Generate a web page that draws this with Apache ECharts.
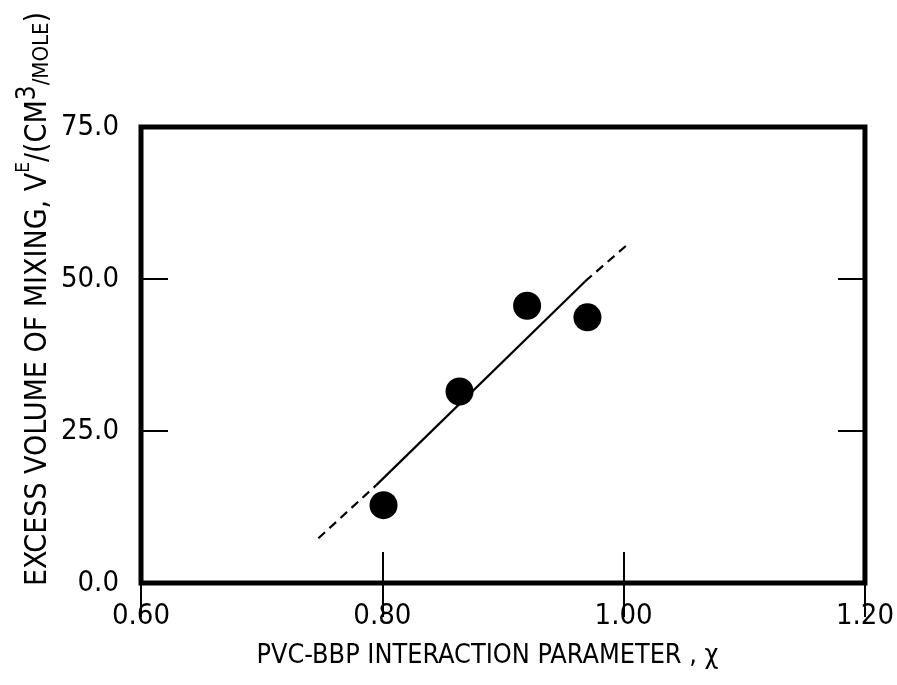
<!DOCTYPE html>
<html>
<head>
<meta charset="utf-8">
<script src="https://cdn.jsdelivr.net/npm/echarts@6/dist/echarts.min.js"></script>
<style>html,body{margin:0;padding:0;background:#fff}#c{width:897px;height:685px}</style>
</head>
<body>
<div id="c"></div>
<script>
// Data
const pointX = [0.801, 0.864, 0.920, 0.970];
const pointY = [12.8, 31.5, 45.6, 43.7];
const fitSolidX = [0.795, 0.968];
const fitSolidY = [16.1, 49.6];
const fitDashLowX = [0.747, 0.795];
const fitDashLowY = [7.35, 16.1];
const fitDashHighX = [0.968, 1.004];
const fitDashHighY = [49.6, 55.8];
const xTickValues = [0.6, 0.8, 1.0, 1.2];
const yTickValues = [0, 25, 50, 75];
const xTitle = 'PVC-BBP INTERACTION PARAMETER , χ';

const zip = (a, b) => a.map((v, i) => [v, b[i]]);
const FONT = '"DejaVu Sans Condensed", "DejaVu Sans", sans-serif';

const chart = echarts.init(document.getElementById('c'), null, {renderer: 'canvas'});
const xBase = {
  type: 'value', min: xTickValues[0], max: xTickValues[xTickValues.length - 1], interval: 0.2,
  axisLine: {show: false}, splitLine: {show: false},
  axisTick: {show: true, inside: true, length: 31, lineStyle: {color: '#000', width: 2}}
};
const yBase = {
  type: 'value', min: yTickValues[0], max: yTickValues[yTickValues.length - 1], interval: 25,
  axisLine: {show: false}, splitLine: {show: false},
  axisTick: {show: true, inside: true, length: 27, lineStyle: {color: '#000', width: 2}}
};
chart.setOption({
  animation: false,
  backgroundColor: '#fff',
  grid: {left: 141, right: 31, top: 127, bottom: 102, show: true, borderColor: '#000', borderWidth: 5, backgroundColor: 'transparent'},
  xAxis: [
    Object.assign({}, xBase, {
      position: 'bottom',
      axisLabel: {show: true, color: '#000', fontFamily: FONT, fontSize: 29, margin: 19,
        formatter: v => v.toFixed(2)},
      name: xTitle, nameLocation: 'middle', nameGap: 60,
      nameTextStyle: {color: '#000', fontFamily: FONT, fontSize: 26.8, padding: [0, 31, 0, 0]}
    }),
    Object.assign({}, xBase, {position: 'top', axisLabel: {show: false},
      axisTick: {show: true, inside: true, length: 34, lineStyle: {color: '#000', width: 2}}})
  ],
  yAxis: [
    Object.assign({}, yBase, {
      position: 'left',
      axisLabel: {show: true, color: '#000', fontFamily: FONT, fontSize: 29, margin: 22,
        formatter: v => v.toFixed(1)}
    }),
    Object.assign({}, yBase, {position: 'right', axisLabel: {show: false}})
  ],
  graphic: [{
    type: 'text', x: 34, y: 299, rotation: Math.PI / 2,
    style: {
      text: '{m|EXCESS VOLUME OF MIXING, V}{sup|E}{m|/(CM}{sup3|3}{s|/MOLE}{m|)}',
      textAlign: 'center', textVerticalAlign: 'middle', fill: '#000',
      rich: {
        m: {fontFamily: FONT, fontSize: 30, verticalAlign: 'bottom', lineHeight: 38},
        sup: {fontFamily: FONT, fontSize: 19, verticalAlign: 'top', lineHeight: 38},
        sup3: {fontFamily: FONT, fontSize: 26, verticalAlign: 'top', lineHeight: 38},
        s: {fontFamily: FONT, fontSize: 22, verticalAlign: 'bottom', lineHeight: 38}
      }
    }
  }],
  series: [
    {type: 'line', data: zip(fitSolidX, fitSolidY), symbol: 'none',
      lineStyle: {color: '#000', width: 2.2}, z: 2},
    {type: 'line', data: zip(fitDashLowX, fitDashLowY), symbol: 'none',
      lineStyle: {color: '#000', width: 2.2, type: [9, 6]}, z: 2},
    {type: 'line', data: zip(fitDashHighX, fitDashHighY), symbol: 'none',
      lineStyle: {color: '#000', width: 2.2, type: [9, 6]}, z: 2},
    {type: 'scatter', data: zip(pointX, pointY), symbol: 'circle', symbolSize: 28,
      itemStyle: {color: '#000', opacity: 1}, z: 3}
  ]
});
</script>
</body>
</html>
